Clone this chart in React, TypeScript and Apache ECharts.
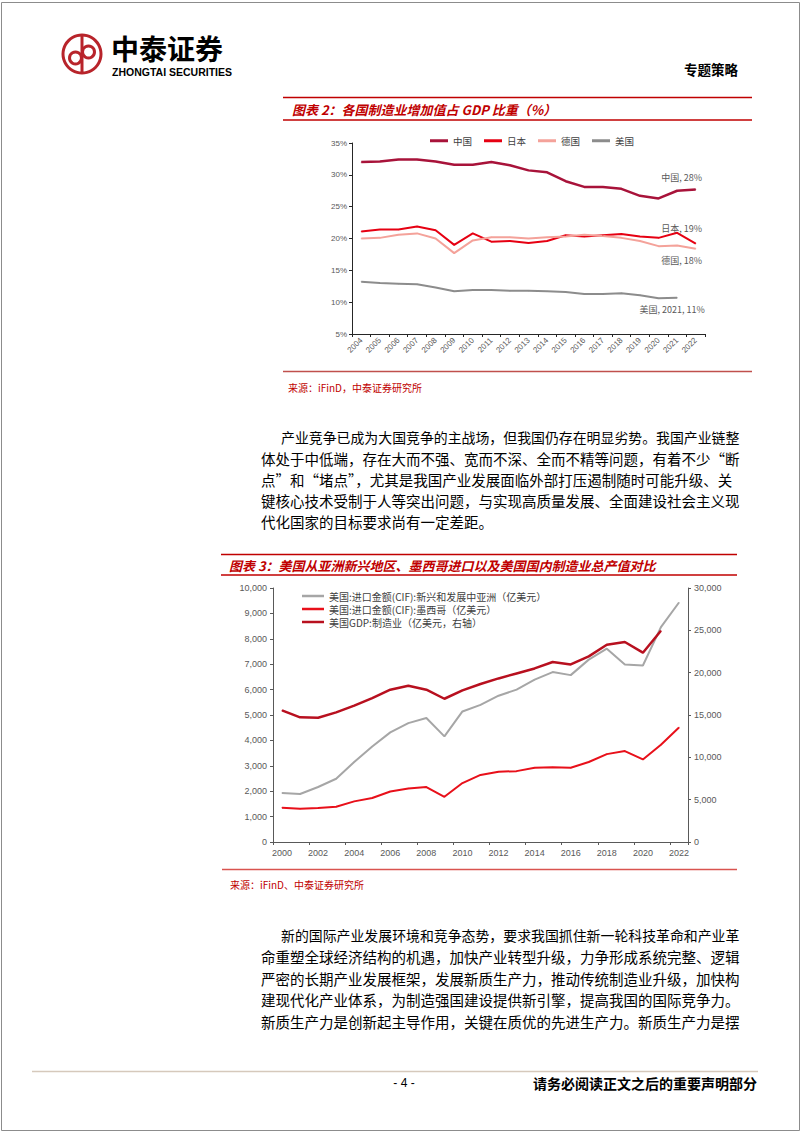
import React, { useEffect, useRef } from "react";
import * as echarts from "echarts";

// ---------- Chart 2 (各国制造业增加值占 GDP 比重) ----------
const years1 = ["2004","2005","2006","2007","2008","2009","2010","2011","2012","2013","2014","2015","2016","2017","2018","2019","2020","2021","2022"];
const china = [32.0, 32.1, 32.4, 32.4, 32.1, 31.6, 31.6, 32.0, 31.5, 30.7, 30.4, 29.0, 28.1, 28.1, 27.8, 26.7, 26.3, 27.5, 27.7];
const japan = [21.1, 21.4, 21.4, 21.9, 21.3, 19.0, 20.8, 19.5, 19.6, 19.3, 19.6, 20.5, 20.3, 20.5, 20.7, 20.3, 20.1, 20.9, 19.2];
const germany = [20.0, 20.1, 20.6, 20.8, 20.0, 17.7, 19.7, 20.2, 20.2, 20.0, 20.2, 20.3, 20.6, 20.4, 20.1, 19.6, 18.8, 18.9, 18.4];
const usa = [13.2, 13.0, 12.9, 12.8, 12.3, 11.7, 11.9, 11.9, 11.8, 11.8, 11.7, 11.6, 11.3, 11.3, 11.4, 11.1, 10.6, 10.7, null];
const names1 = ["中国", "日本", "德国", "美国"];

// ---------- Chart 3 (美国进口与制造业) ----------
const years2 = ["2000","2001","2002","2003","2004","2005","2006","2007","2008","2009","2010","2011","2012","2013","2014","2015","2016","2017","2018","2019","2020","2021","2022"];
const asiaImports = [1930, 1890, 2165, 2490, 3150, 3760, 4315, 4680, 4880, 4160, 5140, 5400, 5760, 6000, 6390, 6690, 6570, 7180, 7610, 6990, 6950, 8460, 9430];
const mexicoImports = [1350, 1310, 1340, 1390, 1600, 1730, 1990, 2110, 2165, 1780, 2320, 2640, 2770, 2790, 2925, 2940, 2925, 3150, 3460, 3580, 3250, 3830, 4510];
const usMfgGdp = [15540, 14720, 14680, 15310, 16100, 17000, 17990, 18460, 17990, 16920, 17900, 18660, 19320, 19910, 20500, 21260, 20970, 21920, 23300, 23620, 22360, 24950, null];
const names2 = ["美国:进口金额(CIF):新兴和发展中亚洲（亿美元）", "美国:进口金额(CIF):墨西哥（亿美元）", "美国GDP:制造业（亿美元，右轴）"];

// ---------- Page texts ----------
const para1 = [
  "产业竞争已成为大国竞争的主战场，但我国仍存在明显劣势。我国产业链整",
  "体处于中低端，存在大而不强、宽而不深、全而不精等问题，有着不少“断",
  "点”和“堵点”，尤其是我国产业发展面临外部打压遏制随时可能升级、关",
  "键核心技术受制于人等突出问题，与实现高质量发展、全面建设社会主义现",
  "代化国家的目标要求尚有一定差距。",
];
const para2 = [
  "新的国际产业发展环境和竞争态势，要求我国抓住新一轮科技革命和产业革",
  "命重塑全球经济结构的机遇，加快产业转型升级，力争形成系统完整、逻辑",
  "严密的长期产业发展框架，发展新质生产力，推动传统制造业升级，加快构",
  "建现代化产业体系，为制造强国建设提供新引擎，提高我国的国际竞争力。",
  "新质生产力是创新起主导作用，关键在质优的先进生产力。新质生产力是摆",
];

const CJK = '"Noto Sans CJK SC", sans-serif';
const ARIAL = '"Liberation Sans", Arial, sans-serif';
const RED = "#C00000";

function txt(text: string, x: number, y: number, size: number, o: any = {}) {
  return {
    type: "text",
    x,
    y,
    silent: true,
    style: {
      text,
      fontSize: size,
      fontFamily: o.family || CJK,
      fontWeight: o.weight || "normal",
      fontStyle: o.style || "normal",
      fill: o.color || "#000",
      textAlign: o.align || "left",
      textVerticalAlign: "middle",
    },
  };
}
function hline(x1: number, x2: number, y: number, color: string, w = 1.5) {
  return { type: "line", silent: true, shape: { x1, y1: y, x2, y2: y }, style: { stroke: color, lineWidth: w } };
}

function withEndLabel(arr: (number | null)[], idx: number, text: string, pos: string, offset: number[]) {
  return arr.map((v, i) =>
    i === idx
      ? { value: v, label: { show: true, position: pos, distance: 3, offset, formatter: text, fontSize: 9, color: "#595959", fontFamily: CJK } }
      : v
  );
}

const fmt = (v: number) => v.toLocaleString("en-US");

export default function App() {
  const ref = useRef<HTMLDivElement>(null);
  useEffect(() => {
    if (!ref.current) return;
    const chart = echarts.init(ref.current, undefined, { renderer: "svg" });

    const graphics: any[] = [];
    // page border
    graphics.push({ type: "rect", silent: true, shape: { x: 1.5, y: 2.5, width: 798, height: 1128 }, style: { fill: "none", stroke: "#8c8c8c", lineWidth: 1 } });
    // logo
    graphics.push({ type: "ring", silent: true, shape: { cx: 82, cy: 54, r: 20.5, r0: 17.5 }, style: { fill: "#B8242B" } });
    graphics.push({ type: "line", silent: true, shape: { x1: 82, y1: 35, x2: 82, y2: 73 }, style: { stroke: "#B8242B", lineWidth: 3 } });
    graphics.push({ type: "circle", silent: true, shape: { cx: 75.5, cy: 58, r: 6 }, style: { fill: "none", stroke: "#B8242B", lineWidth: 3 } });
    graphics.push({ type: "circle", silent: true, shape: { cx: 88.5, cy: 52, r: 6 }, style: { fill: "none", stroke: "#B8242B", lineWidth: 3 } });
    graphics.push(txt("中泰证券", 111, 47.5, 28, { weight: "bold" }));
    graphics.push(txt("ZHONGTAI SECURITIES", 112, 71.5, 10.5, { weight: "bold", family: ARIAL }));
    graphics.push(txt("专题策略", 738, 69, 13.5, { weight: "bold", align: "right" }));

    // chart 2 title block
    graphics.push(hline(283, 752, 97.5, RED));
    graphics.push(hline(283, 752, 120, RED));
    graphics.push(txt("图表 2：各国制造业增加值占 GDP 比重（%）", 292, 109, 13, { weight: "bold", style: "italic", color: RED }));
    graphics.push(hline(283, 752, 371.5, "#C0504D"));
    graphics.push(txt("来源：iFinD，中泰证券研究所", 288, 387, 10, { color: RED }));

    // paragraph 1
    para1.forEach((line, i) => {
      const x0 = i === 0 ? 281 : 261;
      graphics.push(txt(line, x0, 437 + i * 21, i === 0 ? 13.9 : 14.5));
    });

    // chart 3 title block
    graphics.push(hline(221, 737, 554.5, RED));
    graphics.push(hline(221, 737, 575, RED));
    graphics.push(txt("图表 3：美国从亚洲新兴地区、墨西哥进口以及美国国内制造业总产值对比", 229, 565, 13, { weight: "bold", style: "italic", color: RED }));
    graphics.push(hline(222, 737, 869.5, "#D9534F"));
    graphics.push(txt("来源：iFinD、中泰证券研究所", 230, 884, 10, { color: RED }));

    // paragraph 2
    para2.forEach((line, i) => {
      const x0 = i === 0 ? 281 : 261;
      graphics.push(txt(line, x0, 935 + i * 21.5, i === 0 ? 13.9 : 14.5));
    });

    // footer
    graphics.push(hline(32, 758, 1071.5, "#D6C9BC", 1.5));
    graphics.push(txt("- 4 -", 404, 1083, 12, { family: ARIAL, align: "center" }));
    graphics.push(txt("请务必阅读正文之后的重要声明部分", 757, 1083, 14, { weight: "bold", align: "right" }));

    const axisLbl1 = { fontSize: 8, color: "#595959", fontFamily: ARIAL };
    const axisLbl2 = { fontSize: 9, color: "#595959", fontFamily: ARIAL };

    const lineS = (name: string, data: any[], color: string, w: number, x: number, y: number) => ({
      name,
      type: "line",
      xAxisIndex: x,
      yAxisIndex: y,
      data,
      showSymbol: true,
      symbol: "circle",
      symbolSize: 1,
      connectNulls: false,
      lineStyle: { color, width: w },
      itemStyle: { color },
      emphasis: { disabled: true },
    });

    chart.setOption({
      animation: false,
      backgroundColor: "#ffffff",
      graphic: graphics,
      legend: [
        {
          data: names1,
          left: 425,
          top: 131,
          icon: "rect",
          itemWidth: 18,
          itemHeight: 3,
          itemGap: 12,
          textStyle: { fontSize: 9.5, color: "#404040", fontFamily: CJK },
        },
        {
          data: names2,
          orient: "vertical",
          left: 297,
          top: 586,
          icon: "rect",
          itemWidth: 22,
          itemHeight: 2.5,
          itemGap: 3,
          textStyle: { fontSize: 10, color: "#404040", fontFamily: CJK },
        },
      ],
      grid: [
        { left: 352, top: 143, width: 353, height: 191, containLabel: false },
        { left: 273, top: 588, width: 415, height: 254, containLabel: false },
      ],
      xAxis: [
        {
          gridIndex: 0,
          type: "category",
          data: years1,
          boundaryGap: true,
          axisLine: { lineStyle: { color: "#262626", width: 1 } },
          axisTick: { show: true, length: 3, lineStyle: { color: "#262626" } },
          axisLabel: { ...axisLbl1, rotate: 45, interval: 0, margin: 5 },
          splitLine: { show: false },
        },
        {
          gridIndex: 1,
          type: "category",
          data: years2,
          boundaryGap: true,
          axisLine: { lineStyle: { color: "#595959", width: 1 } },
          axisTick: { show: true, length: 3, interval: 1, lineStyle: { color: "#595959" } },
          axisLabel: { ...axisLbl2, interval: 1, margin: 6 },
          splitLine: { show: false },
        },
      ],
      yAxis: [
        {
          gridIndex: 0,
          type: "value",
          min: 5,
          max: 35,
          interval: 5,
          axisLine: { show: true, lineStyle: { color: "#262626", width: 1 } },
          axisTick: { show: true, length: 3, lineStyle: { color: "#262626" } },
          axisLabel: { ...axisLbl1, formatter: "{value}%", margin: 5 },
          splitLine: { show: false },
        },
        {
          gridIndex: 1,
          type: "value",
          min: 0,
          max: 10000,
          interval: 1000,
          position: "left",
          axisLine: { show: true, lineStyle: { color: "#595959", width: 1 } },
          axisTick: { show: true, length: 3, lineStyle: { color: "#595959" } },
          axisLabel: { ...axisLbl2, formatter: fmt, margin: 6 },
          splitLine: { show: false },
        },
        {
          gridIndex: 1,
          type: "value",
          min: 0,
          max: 30000,
          interval: 5000,
          position: "right",
          axisLine: { show: true, lineStyle: { color: "#595959", width: 1 } },
          axisTick: { show: true, length: 3, lineStyle: { color: "#595959" } },
          axisLabel: { ...axisLbl2, formatter: fmt, margin: 6 },
          splitLine: { show: false },
        },
      ],
      series: [
        lineS(names1[0], withEndLabel(china, 18, `中国, ${Math.round(china[18])}%`, "top", [-14, -4]), "#A8133A", 2.5, 0, 0),
        lineS(names1[1], withEndLabel(japan, 18, `日本, ${Math.round(japan[18])}%`, "top", [-14, -7]), "#E60012", 2, 0, 0),
        lineS(names1[2], withEndLabel(germany, 18, `德国, ${Math.round(germany[18])}%`, "bottom", [-14, 4]), "#F4A29A", 2, 0, 0),
        lineS(names1[3], withEndLabel(usa, 17, `美国, ${years1[17]}, ${Math.round(usa[17] as number)}%`, "bottom", [-5, 4]), "#8C8C8C", 2, 0, 0),
        lineS(names2[0], asiaImports, "#A6A6A6", 2, 1, 1),
        lineS(names2[1], mexicoImports, "#E8101A", 2, 1, 1),
        lineS(names2[2], usMfgGdp, "#B8101F", 2.5, 1, 2),
      ],
    });

    return () => chart.dispose();
  }, []);

  return (
    <div
      ref={ref}
      style={{ position: "absolute", left: 0, top: 0, width: 802, height: 1133, background: "#fff" }}
    />
  );
}
